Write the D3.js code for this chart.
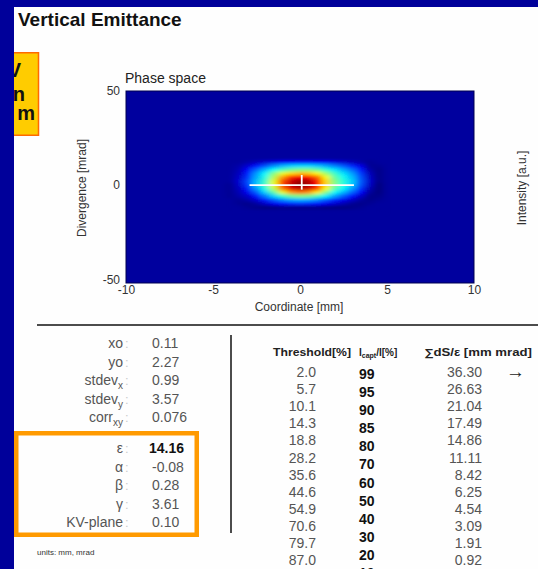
<!DOCTYPE html>
<html>
<head>
<meta charset="utf-8">
<script src="https://cdn.jsdelivr.net/npm/d3@7"></script>
<style>
  html, body { margin: 0; padding: 0; background: #00009a; }
  svg { display: block; }
  text { font-family: Arial, "Liberation Sans", sans-serif; }
</style>
</head>
<body>
<svg id="chart" width="538" height="569"></svg>
<script>
// ---- phase-space measurement (normalised intensity) ----
const xTicks = [-10, -5, 0, 5, 10];
const yTicks = [-50, 0, 50];
const xDomain = [-10, 10];
const yDomain = [-52, 50];
const gridX = [-4, -3.5, -3, -2.5, -2, -1.5, -1, -0.5, 0, 0.5, 1, 1.5, 2, 2.5, 3, 3.5, 4, 4.5];
const gridY = [14, 12, 10, 8, 6, 4, 2, 0, -2, -4, -6, -8, -10, -12, -14];
const backgroundLevel = 0.03;
const intensity = [
  [0.03,0.03,0.03,0.03,0.03,0.03,0.03,0.03,0.03,0.03,0.03,0.03,0.03,0.03,0.03,0.03,0.03,0.03],
  [0.03,0.03,0.04,0.06,0.08,0.10,0.12,0.13,0.14,0.14,0.13,0.12,0.10,0.08,0.06,0.04,0.02,0.03],
  [0.03,0.04,0.08,0.14,0.20,0.26,0.30,0.33,0.34,0.34,0.32,0.29,0.25,0.21,0.16,0.10,0.02,0.02],
  [0.03,0.05,0.12,0.22,0.30,0.38,0.44,0.48,0.50,0.50,0.47,0.41,0.35,0.29,0.23,0.15,0.04,0.01],
  [0.03,0.06,0.15,0.27,0.37,0.50,0.60,0.66,0.69,0.68,0.63,0.53,0.43,0.35,0.28,0.18,0.06,0.01],
  [0.03,0.07,0.17,0.29,0.40,0.55,0.72,0.84,0.88,0.86,0.78,0.62,0.47,0.39,0.31,0.20,0.07,0.01],
  [0.03,0.08,0.19,0.31,0.43,0.60,0.80,0.92,0.97,0.95,0.86,0.66,0.50,0.41,0.33,0.21,0.08,0.01],
  [0.02,0.07,0.18,0.31,0.43,0.60,0.82,0.94,1.00,0.96,0.87,0.67,0.50,0.41,0.32,0.20,0.07,0.00],
  [0.02,0.06,0.15,0.27,0.40,0.56,0.76,0.90,0.94,0.92,0.82,0.62,0.46,0.37,0.28,0.17,0.05,0.00],
  [0.02,0.05,0.11,0.21,0.33,0.46,0.60,0.72,0.76,0.73,0.64,0.50,0.38,0.30,0.22,0.12,0.03,0.00],
  [0.02,0.04,0.07,0.14,0.24,0.33,0.42,0.48,0.50,0.49,0.44,0.36,0.28,0.21,0.14,0.07,0.01,0.01],
  [0.03,0.02,0.04,0.08,0.15,0.21,0.26,0.29,0.30,0.29,0.26,0.21,0.16,0.11,0.07,0.03,0.01,0.02],
  [0.03,0.02,0.01,0.03,0.07,0.11,0.14,0.16,0.17,0.16,0.14,0.11,0.08,0.05,0.02,0.01,0.02,0.03],
  [0.03,0.03,0.02,0.01,0.00,0.00,0.01,0.01,0.01,0.01,0.01,0.00,0.00,0.00,0.01,0.02,0.03,0.03],
  [0.03,0.03,0.03,0.03,0.03,0.03,0.03,0.03,0.03,0.03,0.03,0.03,0.03,0.03,0.03,0.03,0.03,0.03]
];
// beam centre cross (mm / mrad)
const crossHx = [-2.9, 3.1];
const crossHy = 0;
const crossVx = 0.1;
const crossVy = [-2.4, 5.4];

// ---- beam statistics ----
const statNames = [["xo", ""], ["yo", ""], ["stdev", "x"], ["stdev", "y"], ["corr", "xy"]];
const statValues = ["0.11", "2.27", "0.99", "3.57", "0.076"];
const twissNames = ["ε", "α", "β", "γ", "KV-plane"];
const twissValues = ["14.16", "-0.08", "0.28", "3.61", "0.10"];

// ---- emittance vs. threshold table ----
const thresholds = ["2.0", "5.7", "10.1", "14.3", "18.8", "28.2", "35.6", "44.6", "54.9", "70.6", "79.7", "87.0"];
const captured = ["99", "95", "90", "85", "80", "70", "60", "50", "40", "30", "20", "10"];
const emittances = ["36.30", "26.63", "21.04", "17.49", "14.86", "11.11", "8.42", "6.25", "4.54", "3.09", "1.91", "0.92"];

const svg = d3.select("#chart");
const W = 538, H = 569;

// page background and white sheet
svg.append("rect").attr("width", W).attr("height", H).attr("fill", "#00009a");
svg.append("rect").attr("x", 14).attr("y", 7).attr("width", W - 14).attr("height", H - 7).attr("fill", "#fefefe");

// title
svg.append("text").attr("x", 18).attr("y", 26)
  .attr("font-size", 19).attr("font-weight", "bold").attr("fill", "#111")
  .text("Vertical Emittance");

// clipped callout at the left edge
const callout = svg.append("g");
const calloutClip = svg.append("clipPath").attr("id", "calloutClip");
calloutClip.append("rect").attr("x", 14).attr("y", 52).attr("width", 26).attr("height", 84);
callout.attr("clip-path", "url(#calloutClip)");
callout.append("rect").attr("x", 4).attr("y", 52.75).attr("width", 34.5).attr("height", 82.5)
  .attr("fill", "#ffcc00").attr("stroke", "#ff6a00").attr("stroke-width", 1.5);
callout.selectAll("text").data([["V", 77, 21], ["n", 101, 25], ["m", 120, 35]]).join("text")
  .attr("x", d => d[2]).attr("y", d => d[1])
  .attr("text-anchor", "end").attr("font-size", 20).attr("font-weight", "bold").attr("fill", "#111")
  .text(d => d[0]);

// ---- phase space plot ----
const x = d3.scaleLinear().domain(xDomain).range([126, 474]);
const y = d3.scaleLinear().domain(yDomain).range([283, 91]);

const colour = d3.scaleLinear()
  .domain([0, 0.125, 0.375, 0.625, 0.875, 1])
  .range(["#000080", "#0000ff", "#00ffff", "#ffff00", "#ff0000", "#800000"])
  .clamp(true);

svg.append("text").attr("x", 125).attr("y", 83)
  .attr("font-size", 14).attr("fill", "#222").text("Phase space");

const defs = svg.append("defs");
defs.append("clipPath").attr("id", "plotClip")
  .append("rect").attr("x", x(xDomain[0])).attr("y", y(yDomain[1]))
  .attr("width", x(xDomain[1]) - x(xDomain[0])).attr("height", y(yDomain[0]) - y(yDomain[1]));
defs.append("filter").attr("id", "soft").attr("x", "-20%").attr("y", "-20%").attr("width", "140%").attr("height", "140%")
  .append("feGaussianBlur").attr("stdDeviation", "3.2 1.8");

const plot = svg.append("g").attr("clip-path", "url(#plotClip)");
plot.append("rect")
  .attr("x", x(xDomain[0])).attr("y", y(yDomain[1]))
  .attr("width", x(xDomain[1]) - x(xDomain[0])).attr("height", y(yDomain[0]) - y(yDomain[1]))
  .attr("fill", colour(backgroundLevel));

const dx = 0.5, dy = 2;
const cells = [];
gridY.forEach((gy, i) => gridX.forEach((gx, j) => cells.push({ gx, gy, v: intensity[i][j] })));
plot.append("g").attr("filter", "url(#soft)")
  .selectAll("rect").data(cells).join("rect")
  .attr("x", d => x(d.gx - dx / 2) - 0.3)
  .attr("y", d => y(d.gy + dy / 2) - 0.3)
  .attr("width", x(dx) - x(0) + 0.6)
  .attr("height", y(0) - y(dy) + 0.6)
  .attr("fill", d => colour(d.v));

// centre cross
plot.append("line")
  .attr("x1", x(crossHx[0])).attr("x2", x(crossHx[1]))
  .attr("y1", y(crossHy)).attr("y2", y(crossHy))
  .attr("stroke", "#fff").attr("stroke-width", 1.8);
plot.append("line")
  .attr("x1", x(crossVx)).attr("x2", x(crossVx))
  .attr("y1", y(crossVy[0])).attr("y2", y(crossVy[1]))
  .attr("stroke", "#fff").attr("stroke-width", 1.8);

svg.append("rect")
  .attr("x", x(xDomain[0])).attr("y", y(yDomain[1]))
  .attr("width", x(xDomain[1]) - x(xDomain[0])).attr("height", y(yDomain[0]) - y(yDomain[1]))
  .attr("fill", "none").attr("stroke", "#000050").attr("stroke-width", 1);

// axes (plain hyphen minus signs)
const plain = d => String(d);
const xAxis = svg.append("g").attr("transform", `translate(0,${y(yDomain[0])})`)
  .call(d3.axisBottom(x).tickValues(xTicks).tickFormat(plain).tickSize(0).tickPadding(2));
const yAxis = svg.append("g").attr("transform", `translate(${x(xDomain[0])},0)`)
  .call(d3.axisLeft(y).tickValues(yTicks).tickFormat(plain).tickSize(0).tickPadding(6));
[xAxis, yAxis].forEach(a => {
  a.select(".domain").remove();
  a.selectAll("text").attr("font-size", 12).attr("fill", "#333")
    .attr("font-family", 'Arial, "Liberation Sans", sans-serif');
});

svg.append("text").attr("x", 299).attr("y", 311).attr("text-anchor", "middle")
  .attr("font-size", 12).attr("fill", "#333").text("Coordinate [mm]");
svg.append("text").attr("transform", "translate(86,188) rotate(-90)").attr("text-anchor", "middle")
  .attr("font-size", 12).attr("fill", "#333").text("Divergence [mrad]");
svg.append("text").attr("transform", "translate(526,188) rotate(-90)").attr("text-anchor", "middle")
  .attr("font-size", 12).attr("fill", "#333").text("Intensity [a.u.]");

// separators
svg.append("line").attr("x1", 37).attr("x2", W).attr("y1", 325).attr("y2", 325)
  .attr("stroke", "#111").attr("stroke-width", 1.5);
svg.append("line").attr("x1", 231).attr("x2", 231).attr("y1", 335).attr("y2", 533)
  .attr("stroke", "#111").attr("stroke-width", 1.5);

// ---- statistics block ----
const labelX = 123, valueX = 152, rowStep = 18.6;
function drawLabel(sel, main, sub) {
  sel.append("tspan").text(main);
  if (sub) sel.append("tspan").attr("dy", 4).attr("font-size", 10).text(sub);
}
statNames.forEach((n, i) => {
  const yy = 348 + i * rowStep;
  const t = svg.append("text").attr("x", labelX).attr("y", yy).attr("text-anchor", "end")
    .attr("font-size", 14).attr("fill", "#555");
  drawLabel(t, n[0], n[1]);
  svg.append("text").attr("x", labelX + 2).attr("y", yy).attr("font-size", 13).attr("fill", "#ccc").text(":");
  svg.append("text").attr("x", valueX).attr("y", yy).attr("font-size", 14).attr("fill", "#555").text(statValues[i]);
});

svg.append("rect").attr("x", 16.25).attr("y", 433.25).attr("width", 180.5).attr("height", 101.5)
  .attr("fill", "none").attr("stroke", "#ff9a00").attr("stroke-width", 4.5);

twissNames.forEach((n, i) => {
  const yy = 453 + i * rowStep;
  svg.append("text").attr("x", labelX).attr("y", yy).attr("text-anchor", "end")
    .attr("font-size", 14).attr("fill", "#555").text(n);
  svg.append("text").attr("x", labelX + 2).attr("y", yy).attr("font-size", 13).attr("fill", "#ccc").text(":");
  svg.append("text").attr("x", i === 0 ? valueX - 3 : valueX).attr("y", yy).attr("font-size", 14)
    .attr("font-weight", i === 0 ? "bold" : "normal").attr("fill", i === 0 ? "#111" : "#555")
    .text(twissValues[i]);
});

svg.append("text").attr("x", 37).attr("y", 555).attr("font-size", 8).attr("fill", "#333")
  .text("units: mm, mrad");

// ---- threshold table ----
const head = svg.append("g").attr("font-size", 10).attr("font-weight", "bold").attr("fill", "#222");
head.append("text").attr("x", 273).attr("y", 356)
  .attr("textLength", 78).attr("lengthAdjust", "spacingAndGlyphs").text("Threshold[%]");
const h2 = head.append("text").attr("x", 359).attr("y", 356);
h2.append("tspan").text("I");
h2.append("tspan").attr("dy", 2).attr("font-size", 7).text("capt");
h2.append("tspan").attr("dy", -2).text("/I[%]");
head.append("text").attr("x", 424).attr("y", 356)
  .attr("textLength", 108).attr("lengthAdjust", "spacingAndGlyphs").text("∑dS/ε [mm mrad]");

const rowA = 17.12, rowB = 18.17;
svg.append("g").selectAll("text").data(thresholds).join("text")
  .attr("x", 316).attr("y", (d, i) => 377 + i * rowA).attr("text-anchor", "end")
  .attr("font-size", 14).attr("fill", "#555").text(d => d);
svg.append("g").selectAll("text").data(captured).join("text")
  .attr("x", 359).attr("y", (d, i) => 378.5 + i * rowB)
  .attr("font-size", 14).attr("font-weight", "bold").attr("fill", "#111").text(d => d);
svg.append("g").selectAll("text").data(emittances).join("text")
  .attr("x", 482).attr("y", (d, i) => 377 + i * rowA).attr("text-anchor", "end")
  .attr("font-size", 14).attr("fill", "#555").text(d => d);
svg.append("text").attr("x", 506).attr("y", 378).attr("font-size", 19).attr("fill", "#222").text("→");
</script>
</body>
</html>
